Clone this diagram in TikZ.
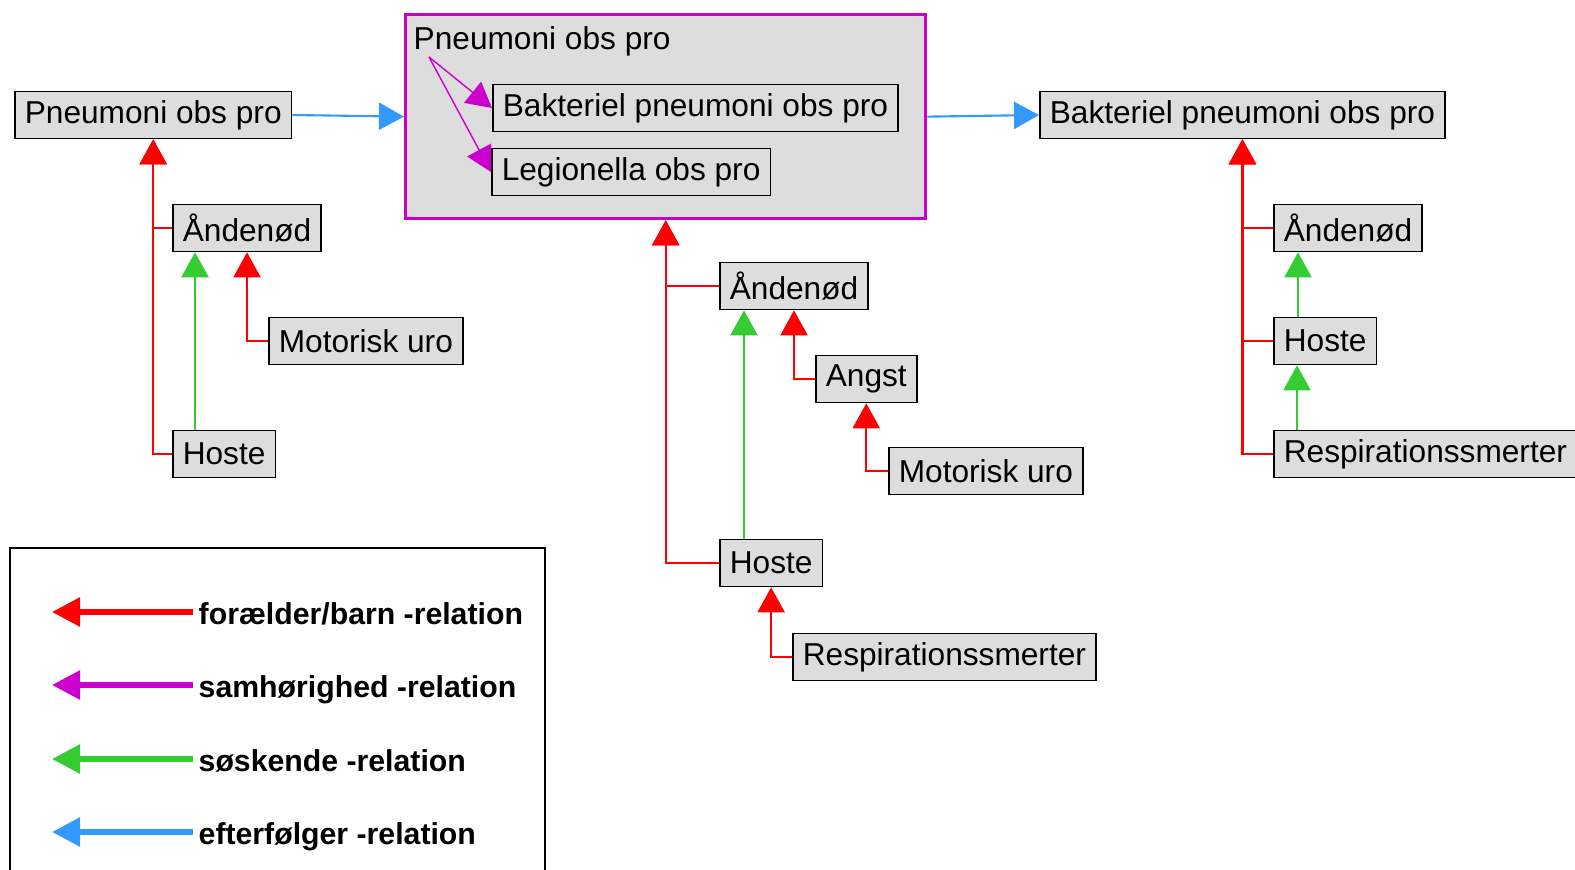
\documentclass[tikz,border=0pt]{standalone}
\usepackage{fontspec}
\setmainfont{Liberation Sans}
\usetikzlibrary{arrows.meta}
\definecolor{relred}{HTML}{FF0000}
\definecolor{relmag}{HTML}{CC00CC}
\definecolor{relgreen}{HTML}{33CC33}
\definecolor{relblue}{HTML}{3399FF}
\definecolor{boxgray}{HTML}{DDDDDD}
\tikzset{
 sym/.style={draw=black, fill=boxgray, line width=0.45pt, anchor=west, inner xsep=0.1cm,
  inner ysep=0pt, minimum height=0.47cm, font=\fontsize{9}{11}\selectfont},
 rel/.style={line width=0.6pt, -{Triangle[length=0.25cm,width=0.27cm]}},
 parent/.style={rel, color=relred},
 sibling/.style={rel, color=relgreen},
 succ/.style={rel, color=relblue},
 cohes/.style={rel, line width=0.4pt, color=relmag}
}

\begin{document}
\begin{tikzpicture}[x=0.01cm, y=-0.01cm]
 \useasboundingbox (0,0) rectangle (1575,870);
 % group
 \node (grp) [draw=relmag, fill=boxgray, line width=0.9pt, anchor=north west, inner sep=0,
  minimum width=5.2cm, minimum height=2.04cm] at (404,13) {};
 \node (grptitle) [anchor=base west, inner sep=0, font=\fontsize{9}{11}\selectfont] at (413,50) {Pneumoni obs pro};
 \coordinate (src) at (429,57);

 % symptoms
 \node (p1) [sym] at (14,115) {Pneumoni obs pro};
 \node (bak1) [sym] at (492,108) {Bakteriel pneumoni obs pro};
 \node (leg1) [sym] at (491,172) {Legionella obs pro};
 \node (bak2) [sym] at (1039,115) {Bakteriel pneumoni obs pro};

 \node (ande1) [sym] at (172,228) {Åndenød};
 \node (moto1) [sym] at (268,341) {Motorisk uro};
 \node (hoste1) [sym] at (172,454) {Hoste};

 \node (ande2) [sym] at (719,286) {Åndenød};
 \node (angst2) [sym] at (815,379) {Angst};
 \node (moto2) [sym] at (888,471) {Motorisk uro};
 \node (hoste2) [sym] at (719,563) {Hoste};
 \node (resp2) [sym] at (792,657) {Respirationssmerter};

 \node (ande3) [sym] at (1273,228) {Åndenød};
 \node (hoste3) [sym] at (1273,341) {Hoste};
 \node (resp3) [sym] at (1273,454) {Respirationssmerter};

 % connectors
 \draw[succ] (p1.east) -- (grp.west);
 \draw[succ] (grp.east) -- (bak2.west);
 \draw[cohes] (src) -- (bak1.west);
 \draw[cohes] (src) -- (leg1.west);

 \draw[parent] (ande1.west) -| (p1.south);
 \draw[parent] (hoste1.west) -| (p1.south);
 \draw[parent] (moto1.west) -| (ande1.south);
 \draw[sibling] ([xshift=0.23cm]hoste1.north west) -- ([xshift=0.23cm]ande1.south west);

 \draw[parent] (ande2.west) -| (grp.south);
 \draw[parent] (hoste2.west) -| (grp.south);
 \draw[parent] (angst2.west) -| (ande2.south);
 \draw[parent] (moto2.west) -| (angst2.south);
 \draw[parent] (resp2.west) -| (hoste2.south);
 \draw[sibling] ([xshift=0.25cm]hoste2.north west) -- ([xshift=0.25cm]ande2.south west);

 \draw[parent] (ande3.west) -| (bak2.south);
 \draw[parent] (hoste3.west) -| (bak2.south);
 \draw[parent] (resp3.west) -| (bak2.south);
 \draw[sibling] ([xshift=0.25cm]hoste3.north west) -- ([xshift=0.25cm]ande3.south west);
 \draw[sibling] ([xshift=0.24cm]resp3.north west) -- ([xshift=0.24cm]hoste3.south west);

 % legend
 \draw[line width=0.6pt] (10,872) |- (545,548) -- (545,872);
 \foreach \n/\y/\c/\t in {1/612/relred/{forælder/barn -relation}, 2/685/relmag/{samhørighed -relation},
   3/759/relgreen/{søskende -relation}, 4/832/relblue/{efterfølger -relation}} {
  \node (lt\n) [anchor=base west, inner sep=0, font=\fontsize{8.6}{10}\selectfont\bfseries] at (198,\y+12) {\t};
  \coordinate (lh\n) at (52,\y);
  \draw[color=\c, line width=1.6pt, -{Triangle[length=0.28cm,width=0.28cm]}] (193,\y) -- (lh\n);
 }
\end{tikzpicture}
\end{document}
